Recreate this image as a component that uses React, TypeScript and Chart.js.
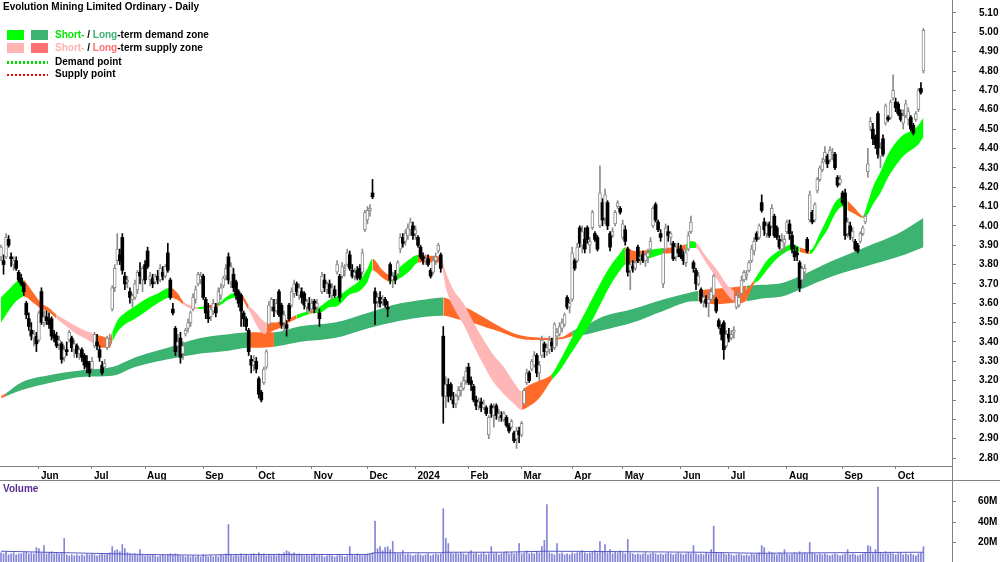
import React, { useEffect, useRef } from "react";
import { Chart, registerables } from "chart.js";

Chart.register(...registerables);

// ---------- Trading-day axis (index 0 = 11 May 2023) ----------
const monthStartIdx = [15, 36, 57, 80, 101, 123, 145, 164, 185, 206, 226, 246, 269, 288, 311, 333, 354];
const monthLabels = ["Jun", "Jul", "Aug", "Sep", "Oct", "Nov", "Dec", "2024", "Feb", "Mar", "Apr", "May", "Jun", "Jul", "Aug", "Sep", "Oct"];
const priceTicks = [2.8, 2.9, 3.0, 3.1, 3.2, 3.3, 3.4, 3.5, 3.6, 3.7, 3.8, 3.9, 4.0, 4.1, 4.2, 4.3, 4.4, 4.5, 4.6, 4.7, 4.8, 4.9, 5.0, 5.1];
const volumeTicks = [20, 40, 60];

// ---------- Daily OHLC ----------
const opens = [
  3.84,3.82,3.84,3.93,3.84,3.80,3.82,3.76,3.73,3.70,
  3.60,3.52,3.46,3.42,3.43,3.41,3.66,3.50,3.53,3.52,
  3.52,3.44,3.43,3.39,3.39,3.32,3.36,3.41,3.42,3.36,
  3.38,3.34,3.36,3.33,3.30,3.29,3.26,3.38,3.40,3.36,
  3.28,3.27,3.37,3.40,3.57,3.68,3.82,3.85,3.94,3.74,
  3.71,3.66,3.62,3.63,3.67,3.76,3.72,3.80,3.87,3.72,
  3.73,3.71,3.74,3.72,3.76,3.74,3.86,3.72,3.57,3.47,
  3.38,3.42,3.34,3.44,3.47,3.50,3.57,3.62,3.70,3.72,
  3.74,3.62,3.56,3.53,3.56,3.58,3.60,3.64,3.69,3.74,
  3.84,3.71,3.75,3.71,3.66,3.64,3.55,3.52,3.46,3.31,
  3.28,3.30,3.21,3.14,3.19,3.27,3.49,3.58,3.58,3.56,
  3.66,3.59,3.50,3.49,3.59,3.59,3.65,3.70,3.64,3.66,
  3.65,3.58,3.60,3.57,3.61,3.58,3.55,3.66,3.72,3.67,
  3.70,3.64,3.67,3.76,3.74,3.74,3.77,3.80,3.85,3.77,
  3.74,3.77,3.78,3.76,3.98,4.03,4.08,4.17,3.66,3.61,
  3.63,3.61,3.62,3.58,3.80,3.72,3.74,3.75,3.88,3.94,
  3.92,3.95,3.98,4.00,3.96,3.94,3.89,3.84,3.82,3.83,
  3.77,3.76,3.82,3.87,3.85,3.43,3.12,3.18,3.18,3.10,
  3.08,3.12,3.15,3.16,3.20,3.27,3.20,3.17,3.10,3.07,
  3.09,3.06,3.06,2.92,3.07,3.02,3.07,3.01,3.02,3.00,
  3.01,2.97,2.96,2.93,2.90,2.94,2.92,3.08,3.19,3.24,
  3.26,3.28,3.33,3.24,3.33,3.39,3.35,3.36,3.40,3.37,
  3.43,3.44,3.47,3.49,3.63,3.58,3.62,3.82,3.82,3.99,
  3.90,3.93,3.99,3.90,3.99,3.96,3.94,4.00,4.12,4.04,
  4.12,3.96,3.95,4.01,4.10,4.09,3.94,3.98,3.88,3.77,
  3.79,3.78,3.89,3.83,3.85,3.82,3.84,3.88,4.00,4.11,
  4.02,3.96,3.70,3.88,3.97,3.94,3.91,3.84,3.88,3.88,
  3.85,3.81,3.88,3.97,3.81,3.77,3.70,3.67,3.61,3.62,
  3.60,3.62,3.64,3.62,3.51,3.47,3.50,3.38,3.44,3.42,
  3.45,3.58,3.59,3.65,3.72,3.74,3.77,3.82,3.87,3.96,
  3.94,4.12,4.02,3.96,4.01,4.00,4.05,3.99,3.93,3.88,
  3.91,3.97,4.01,3.95,3.87,3.86,3.81,3.72,3.76,3.93,
  4.03,4.07,4.03,4.18,4.24,4.29,4.34,4.36,4.34,4.37,
  4.37,4.25,4.22,4.17,4.17,3.96,4.00,3.94,3.92,3.90,
  3.92,3.96,4.02,4.28,4.51,4.50,4.46,4.58,4.36,4.45,
  4.53,4.56,4.56,4.66,4.64,4.63,4.58,4.53,4.57,4.55,
  4.56,4.52,4.55,4.60,4.71,4.80
];
const highs = [
  3.90,3.85,3.96,3.95,3.86,3.84,3.84,3.77,3.75,3.71,
  3.61,3.55,3.50,3.46,3.45,3.56,3.68,3.56,3.56,3.55,
  3.53,3.46,3.45,3.43,3.40,3.38,3.40,3.46,3.43,3.41,
  3.39,3.37,3.37,3.34,3.33,3.30,3.32,3.45,3.44,3.38,
  3.30,3.31,3.43,3.44,3.69,3.80,3.96,3.88,3.96,3.76,
  3.74,3.68,3.65,3.72,3.77,3.81,3.79,3.82,3.89,3.76,
  3.75,3.75,3.77,3.80,3.79,3.80,3.91,3.73,3.60,3.48,
  3.44,3.45,3.40,3.47,3.52,3.56,3.65,3.69,3.76,3.76,
  3.75,3.63,3.60,3.58,3.62,3.60,3.68,3.70,3.74,3.80,
  3.86,3.81,3.78,3.72,3.67,3.65,3.56,3.53,3.47,3.33,
  3.33,3.32,3.22,3.15,3.27,3.36,3.61,3.63,3.62,3.62,
  3.67,3.60,3.56,3.51,3.60,3.68,3.72,3.71,3.70,3.68,
  3.66,3.62,3.63,3.62,3.62,3.62,3.57,3.76,3.75,3.71,
  3.72,3.70,3.69,3.82,3.75,3.81,3.80,3.88,3.87,3.80,
  3.78,3.79,3.80,3.88,4.08,4.10,4.11,4.24,3.68,3.65,
  3.66,3.64,3.63,3.61,3.81,3.76,3.77,3.82,3.96,3.96,
  3.98,4.01,4.04,4.02,4.00,3.95,3.90,3.86,3.85,3.85,
  3.78,3.84,3.86,3.91,3.86,3.48,3.22,3.21,3.19,3.14,
  3.13,3.17,3.19,3.22,3.27,3.29,3.22,3.18,3.12,3.11,
  3.11,3.10,3.07,3.02,3.08,3.08,3.08,3.05,3.04,3.04,
  3.02,2.98,3.00,2.94,2.96,2.96,2.99,3.16,3.26,3.25,
  3.31,3.35,3.34,3.30,3.43,3.40,3.39,3.43,3.42,3.50,
  3.47,3.50,3.52,3.55,3.64,3.62,3.89,3.83,3.91,4.00,
  4.00,3.99,4.00,3.94,4.08,3.97,3.95,4.31,4.14,4.19,
  4.13,3.97,3.99,4.08,4.13,4.10,4.03,4.00,3.89,3.82,
  3.82,3.82,3.90,3.86,3.87,3.86,3.88,3.94,4.10,4.12,
  4.03,3.98,3.88,4.01,4.00,3.97,3.92,3.91,3.91,3.90,
  3.87,3.88,3.97,4.05,3.82,3.78,3.76,3.68,3.65,3.64,
  3.66,3.68,3.75,3.63,3.52,3.49,3.51,3.46,3.47,3.46,
  3.48,3.66,3.64,3.74,3.77,3.77,3.82,3.90,3.94,3.97,
  4.01,4.16,4.04,4.02,4.02,4.11,4.06,4.00,3.95,3.96,
  3.95,4.03,4.03,3.97,3.90,3.89,3.82,3.79,3.80,3.94,
  4.18,4.08,4.12,4.25,4.31,4.35,4.41,4.37,4.41,4.40,
  4.38,4.26,4.26,4.18,4.19,4.04,4.02,3.99,3.93,3.91,
  3.97,4.00,4.06,4.40,4.56,4.53,4.47,4.59,4.43,4.47,
  4.63,4.57,4.65,4.78,4.66,4.64,4.60,4.60,4.65,4.61,
  4.57,4.53,4.59,4.71,4.74,5.02
];
const lows = [
  3.82,3.75,3.83,3.89,3.79,3.77,3.77,3.71,3.69,3.64,
  3.52,3.46,3.41,3.38,3.35,3.40,3.49,3.48,3.49,3.47,
  3.41,3.40,3.37,3.36,3.29,3.30,3.33,3.40,3.35,3.32,
  3.32,3.31,3.30,3.26,3.24,3.22,3.25,3.37,3.36,3.30,
  3.23,3.26,3.36,3.38,3.56,3.66,3.80,3.80,3.75,3.67,
  3.68,3.60,3.58,3.62,3.65,3.70,3.66,3.70,3.78,3.69,
  3.68,3.70,3.70,3.71,3.72,3.73,3.76,3.62,3.54,3.33,
  3.33,3.29,3.31,3.43,3.45,3.48,3.56,3.60,3.69,3.70,
  3.62,3.52,3.50,3.51,3.54,3.53,3.59,3.62,3.68,3.72,
  3.70,3.68,3.66,3.62,3.58,3.48,3.48,3.46,3.33,3.24,
  3.25,3.24,3.11,3.09,3.18,3.26,3.48,3.56,3.53,3.55,
  3.53,3.47,3.45,3.43,3.51,3.58,3.63,3.64,3.62,3.60,
  3.57,3.55,3.56,3.55,3.55,3.56,3.48,3.65,3.66,3.65,
  3.63,3.62,3.63,3.75,3.61,3.73,3.74,3.79,3.77,3.73,
  3.72,3.72,3.72,3.75,3.97,4.01,4.05,4.14,3.49,3.58,
  3.58,3.59,3.58,3.53,3.70,3.68,3.70,3.74,3.86,3.89,
  3.90,3.93,3.95,3.93,3.93,3.89,3.83,3.80,3.80,3.79,
  3.73,3.75,3.80,3.86,3.76,2.98,3.06,3.09,3.10,3.06,
  3.06,3.10,3.12,3.15,3.18,3.18,3.15,3.09,3.05,3.05,
  3.04,3.05,3.02,2.90,3.01,2.96,3.00,2.99,2.99,2.99,
  2.96,2.93,2.95,2.88,2.85,2.88,2.91,3.07,3.18,3.19,
  3.25,3.27,3.22,3.20,3.32,3.32,3.33,3.34,3.35,3.36,
  3.38,3.43,3.45,3.48,3.57,3.55,3.61,3.77,3.81,3.89,
  3.86,3.86,3.91,3.86,3.98,3.92,3.87,3.99,4.00,4.01,
  3.98,3.87,3.94,4.00,4.09,4.06,3.93,3.90,3.74,3.67,
  3.76,3.77,3.81,3.80,3.81,3.79,3.81,3.86,3.99,4.02,
  3.97,3.92,3.68,3.87,3.92,3.90,3.82,3.82,3.84,3.83,
  3.80,3.79,3.87,3.96,3.76,3.67,3.69,3.60,3.58,3.58,
  3.53,3.61,3.63,3.55,3.47,3.41,3.31,3.37,3.40,3.41,
  3.42,3.57,3.58,3.64,3.71,3.72,3.76,3.81,3.85,3.92,
  3.93,4.07,3.95,3.94,3.94,3.99,3.94,3.93,3.88,3.86,
  3.87,3.96,3.93,3.86,3.82,3.82,3.66,3.70,3.73,3.86,
  4.02,4.01,4.02,4.17,4.23,4.28,4.33,4.30,4.33,4.34,
  4.29,4.20,4.21,4.11,3.93,3.94,3.93,3.92,3.87,3.86,
  3.91,3.95,4.01,4.25,4.49,4.42,4.40,4.35,4.30,4.36,
  4.52,4.54,4.55,4.65,4.59,4.57,4.54,4.50,4.56,4.52,
  4.49,4.47,4.54,4.59,4.68,4.79
];
const closes = [
  3.89,3.80,3.94,3.90,3.83,3.82,3.78,3.72,3.70,3.66,
  3.54,3.48,3.43,3.44,3.39,3.55,3.50,3.53,3.51,3.49,
  3.43,3.42,3.38,3.41,3.31,3.36,3.35,3.45,3.37,3.39,
  3.34,3.36,3.32,3.28,3.27,3.24,3.30,3.44,3.38,3.32,
  3.24,3.29,3.42,3.41,3.68,3.78,3.88,3.82,3.77,3.70,
  3.72,3.63,3.64,3.70,3.76,3.74,3.78,3.72,3.79,3.74,
  3.70,3.74,3.72,3.78,3.74,3.79,3.77,3.63,3.55,3.35,
  3.40,3.32,3.38,3.46,3.50,3.55,3.63,3.67,3.75,3.74,
  3.63,3.55,3.52,3.57,3.60,3.55,3.66,3.68,3.73,3.78,
  3.72,3.79,3.68,3.64,3.60,3.56,3.52,3.48,3.35,3.28,
  3.30,3.26,3.13,3.10,3.26,3.35,3.59,3.62,3.56,3.60,
  3.54,3.49,3.54,3.47,3.52,3.66,3.70,3.66,3.68,3.63,
  3.59,3.61,3.57,3.60,3.57,3.60,3.52,3.74,3.68,3.70,
  3.65,3.68,3.64,3.80,3.63,3.79,3.78,3.86,3.78,3.74,
  3.76,3.73,3.73,3.86,4.07,4.08,4.09,4.15,3.60,3.63,
  3.60,3.62,3.59,3.57,3.72,3.74,3.72,3.81,3.94,3.91,
  3.96,3.99,4.02,3.95,3.98,3.90,3.84,3.82,3.83,3.80,
  3.74,3.82,3.84,3.90,3.78,3.12,3.18,3.12,3.12,3.08,
  3.12,3.15,3.17,3.20,3.25,3.19,3.18,3.10,3.07,3.09,
  3.06,3.08,3.03,3.01,3.03,3.06,3.02,3.03,3.01,3.03,
  2.97,2.94,2.99,2.89,2.94,2.92,2.98,3.15,3.24,3.20,
  3.30,3.33,3.24,3.28,3.41,3.35,3.37,3.41,3.38,3.49,
  3.45,3.48,3.50,3.54,3.58,3.60,3.86,3.78,3.89,3.91,
  3.97,3.88,3.93,3.92,4.07,3.93,3.88,4.17,4.03,4.16,
  4.00,3.89,3.97,4.07,4.12,4.07,4.01,3.92,3.76,3.80,
  3.78,3.81,3.82,3.84,3.82,3.85,3.86,3.92,4.09,4.03,
  3.98,3.94,3.86,3.99,3.95,3.96,3.83,3.89,3.86,3.84,
  3.82,3.86,3.95,4.02,3.78,3.70,3.74,3.61,3.63,3.60,
  3.62,3.66,3.74,3.56,3.48,3.44,3.36,3.44,3.42,3.44,
  3.46,3.64,3.63,3.72,3.76,3.75,3.81,3.88,3.92,3.93,
  4.00,4.08,3.98,4.00,3.95,4.09,3.95,3.94,3.89,3.92,
  3.93,4.02,3.96,3.88,3.84,3.85,3.68,3.78,3.78,3.87,
  4.16,4.02,4.11,4.24,4.30,4.33,4.38,4.32,4.39,4.38,
  4.30,4.21,4.24,4.12,3.95,4.02,3.95,3.97,3.88,3.87,
  3.96,3.99,4.05,4.32,4.54,4.45,4.42,4.37,4.40,4.37,
  4.62,4.55,4.64,4.70,4.61,4.58,4.55,4.57,4.63,4.59,
  4.50,4.48,4.58,4.70,4.69,5.01
];

// ---------- Daily volume (millions) ----------
const volumes = [
  10,9,11,8,9,10,8,9,9,10,
  11,9,10,9,15,14,10,17,9,10,
  11,9,10,9,10,24,8,7,8,7,
  8,7,8,7,9,8,9,8,7,8,
  9,8,9,10,16,12,13,11,18,14,
  10,9,8,9,8,13,8,7,8,7,
  8,7,6,7,8,7,8,9,8,9,
  8,7,7,6,7,6,7,6,7,6,
  8,7,6,7,6,7,6,8,7,9,
  37.5,8,7,8,7,9,7,8,7,8,
  9,7,10,8,9,7,8,7,8,7,
  9,8,10,12,11,9,10,8,9,8,
  7,8,7,8,9,7,8,7,6,7,
  8,7,6,7,8,7,6,7,16,8,
  7,9,8,7,8,9,9,10,41,14,
  16,12,15,16,13,21,10,9,9,12,
  8,9,8,7,8,9,8,7,8,9,
  7,8,9,8,9,53,24,19,10,9,
  10,9,10,9,8,10,12,9,10,8,
  9,10,8,9,16,9,10,8,9,10,
  11,9,10,9,10,19,9,10,12,9,
  10,9,11,10,16,22,57,10,9,8,
  19,9,10,8,9,8,10,9,10,11,
  12,10,9,10,11,12,10,21,11,18,
  10,13,9,11,10,12,10,9,23,10,
  9,8,9,8,9,10,8,9,10,9,
  8,9,8,9,10,9,8,9,10,9,
  8,9,10,9,17,9,8,9,8,10,
  9,13,36,10,9,10,9,8,9,8,
  7,8,9,8,7,8,7,9,8,9,
  10,17,15,9,11,10,9,8,10,9,
  13,9,8,9,10,9,11,9,10,9,
  20,10,9,8,9,8,9,8,7,8,
  9,8,7,8,9,13,8,9,8,7,
  8,9,10,17,16,9,13,74,10,9,
  11,9,10,9,8,9,10,8,9,8,
  9,8,7,9,10,16
];
const volAvgIdx = [0, 26, 58, 79, 92, 145, 148, 174, 176, 198, 216, 250, 277, 300, 316, 347, 365];
const volAvg = [11.5, 10, 8.3, 7.6, 8.3, 8.3, 10, 10, 10.5, 10.5, 11.5, 11, 10.5, 9.5, 9.8, 10.3, 10.5];

// ---------- Short-term zone (upper / lower edge, zone state per segment) ----------
const stIdx = [
  0,3,6,8,9,13,16,19,22,26, 30,33,37,40,43,44,46,49,53,57,
  62,67,70,72,76,78,82,86,90,93, 95,98,101,103,105,108,110,114,117,122,
  124,126,130,133,138,142,145,147,151,154, 158,162,165,170,174,176,179,183,187,191,
  195,199,203,206,208,213,218,221,225,229, 233,237,241,245,247,251,256,262,266,271,
  273,275,278,281,284,287,290,292,295,298, 300,303,307,310,313,316,320,321,324,327,
  330,333,335,338,340,341,343,345,348,351, 354,357,360,363,365
];
const stUpper = [
  3.63,3.67,3.71,3.725,3.72,3.65,3.60,3.575,3.54,3.51,
  3.48,3.46,3.44,3.43,3.42,3.45,3.51,3.55,3.585,3.62,
  3.65,3.68,3.65,3.61,3.585,3.58,3.59,3.60,3.64,3.655,
  3.65,3.59,3.55,3.52,3.50,3.50,3.505,3.52,3.54,3.56,
  3.565,3.58,3.62,3.635,3.68,3.72,3.78,3.83,3.77,3.745,
  3.79,3.83,3.85,3.845,3.84,3.76,3.67,3.60,3.50,3.41,
  3.33,3.27,3.19,3.145,3.17,3.20,3.235,3.30,3.40,3.50,
  3.60,3.70,3.79,3.86,3.89,3.87,3.875,3.885,3.89,3.905,
  3.92,3.915,3.86,3.81,3.76,3.70,3.665,3.65,3.67,3.72,
  3.76,3.82,3.865,3.89,3.905,3.89,3.875,3.88,3.96,4.04,
  4.12,4.15,4.13,4.09,4.06,4.05,4.12,4.20,4.28,4.37,
  4.43,4.47,4.49,4.52,4.56
];
const stLower = [
  3.50,3.56,3.61,3.63,3.635,3.60,3.57,3.555,3.52,3.48,
  3.44,3.42,3.39,3.37,3.37,3.40,3.45,3.49,3.52,3.555,
  3.60,3.63,3.615,3.595,3.57,3.57,3.575,3.585,3.62,3.63,
  3.625,3.565,3.49,3.45,3.44,3.46,3.47,3.50,3.52,3.545,
  3.55,3.55,3.58,3.585,3.645,3.665,3.71,3.77,3.73,3.71,
  3.73,3.77,3.81,3.81,3.81,3.68,3.58,3.49,3.38,3.28,
  3.19,3.13,3.08,3.05,3.06,3.11,3.205,3.25,3.33,3.41,
  3.49,3.59,3.69,3.77,3.80,3.81,3.83,3.855,3.86,3.875,
  3.885,3.885,3.83,3.77,3.71,3.65,3.61,3.60,3.62,3.70,
  3.72,3.77,3.83,3.86,3.875,3.865,3.855,3.86,3.92,3.98,
  4.06,4.10,4.08,4.06,4.045,4.04,4.06,4.11,4.17,4.25,
  4.31,4.36,4.39,4.42,4.46
];
// D = demand, S = supply, T = transition
const stZones = "DDDD TTTT SSSS TTT DDDDDD TT SS D T DDD T SSS TTTT D T DDDDDDD TT DDD TT SSSSSSSSS TTT DDDDDDDD TT D TT DD SSSSS TTT DDDDDD T DDDDDD TTT DDDDDDDDDD".replace(/ /g, "").split("");

// ---------- Long-term zone ----------
const ltIdx = [0,2,8,20,33,44,53,66,79,90, 98,102,108,118,132,145,158,168,175,180, 186,192,198,204,210,217,222,226,232,238, 250,262,274,276,282,288,295,301,309,316, 329,342,355,365];
const ltUpper = [3.12,3.135,3.19,3.23,3.255,3.27,3.32,3.37,3.42,3.44, 3.45,3.45,3.45,3.48,3.50,3.55,3.60,3.62,3.63,3.60, 3.565,3.52,3.475,3.44,3.425,3.42,3.425,3.455,3.49,3.53, 3.57,3.62,3.66,3.665,3.675,3.68,3.69,3.695,3.705,3.74, 3.82,3.89,3.96,4.04];
const ltLower = [3.11,3.12,3.15,3.19,3.22,3.225,3.27,3.31,3.34,3.355, 3.37,3.37,3.375,3.40,3.42,3.47,3.51,3.53,3.535,3.52, 3.50,3.475,3.45,3.42,3.41,3.41,3.415,3.43,3.44,3.46, 3.50,3.56,3.61,3.61,3.595,3.60,3.61,3.625,3.635,3.67, 3.74,3.79,3.84,3.89];
const ltZones = "T DDDDDDDDD TT DDDDDD TTTTTTTTT DDDDDD TTT DDDDDDDD".replace(/ /g, "").split("");

// ---------- Styling ----------
const FONT = '"Liberation Sans", Arial, Helvetica, sans-serif';
const ST_COLORS: Record<string, string> = { D: "#00ff00", S: "#ffb6b6", T: "#ff6a28" };
const LT_COLORS: Record<string, string> = { D: "#3cb371", S: "#ff7070", T: "#ff6a28" };
const AXIS_GREY = "#808080";
const UP_GREY = "#8c8c8c";

const X_MIN = -0.4;
const X_MAX = 376.3;

function zeroPad(s: any) {
  s.paddingTop = 0;
  s.paddingBottom = 0;
  s.paddingLeft = 0;
  s.paddingRight = 0;
}

export default function App() {
  const priceRef = useRef<HTMLCanvasElement>(null);
  const volRef = useRef<HTMLCanvasElement>(null);

  useEffect(() => {
    document.body.style.margin = "0";
    Chart.defaults.font.family = FONT;
    Chart.defaults.font.size = 10;
    Chart.defaults.font.weight = "bold";
    Chart.defaults.color = "#000";

    const idx = closes.map((_, i) => i);
    const up = idx.map((i) => closes[i] >= opens[i]);

    const wickData = idx.map((i) => ({ x: i, y: [lows[i], highs[i]] }));
    const bodyData = idx.map((i) => ({ x: i, y: [Math.min(opens[i], closes[i]), Math.max(opens[i], closes[i])] }));

    const ltLowerPts = ltIdx.map((x, k) => ({ x, y: ltLower[k] }));
    const ltUpperPts = ltIdx.map((x, k) => ({ x, y: ltUpper[k] }));
    const stLowerPts = stIdx.map((x, k) => ({ x, y: stLower[k] }));
    const stUpperPts = stIdx.map((x, k) => ({ x, y: stUpper[k] }));

    const bandLine = {
      type: "line" as const,
      pointRadius: 0,
      borderWidth: 0,
      borderColor: "rgba(0,0,0,0)",
      cubicInterpolationMode: "monotone" as const,
    };

    const priceChart = new Chart(priceRef.current!, {
      type: "bar",
      data: {
        datasets: [
          { ...bandLine, data: ltLowerPts, fill: false, order: 5 } as any,
          {
            ...bandLine,
            data: ltUpperPts,
            fill: "-1",
            backgroundColor: LT_COLORS.D,
            order: 5,
            segment: { backgroundColor: (c: any) => LT_COLORS[ltZones[c.p0DataIndex]] || LT_COLORS.D },
          } as any,
          { ...bandLine, data: stLowerPts, fill: false, order: 4 } as any,
          {
            ...bandLine,
            data: stUpperPts,
            fill: "-1",
            backgroundColor: ST_COLORS.D,
            order: 4,
            segment: { backgroundColor: (c: any) => ST_COLORS[stZones[c.p0DataIndex]] || ST_COLORS.D },
          } as any,
          {
            type: "bar",
            data: wickData,
            barThickness: 1,
            grouped: false,
            backgroundColor: up.map((u) => (u ? UP_GREY : "#000")),
            borderWidth: 0,
            order: 2,
          } as any,
          {
            type: "bar",
            data: bodyData,
            barThickness: 3,
            grouped: false,
            backgroundColor: up.map((u) => (u ? "#ffffff" : "#000000")),
            borderColor: up.map((u) => (u ? UP_GREY : "#000000")),
            borderWidth: up.map((u) => (u ? 1 : 0)),
            borderSkipped: false,
            order: 1,
          } as any,
        ],
      },
      options: {
        animation: false,
        responsive: true,
        maintainAspectRatio: false,
        events: [],
        layout: { padding: 0 },
        plugins: { legend: { display: false }, tooltip: { enabled: false }, title: { display: false } },
        scales: {
          x: {
            type: "linear",
            min: X_MIN,
            max: X_MAX,
            offset: false,
            grid: { display: true, offset: false, drawOnChartArea: false, drawTicks: true, tickLength: 3, color: AXIS_GREY },
            border: { display: true, color: AXIS_GREY },
            ticks: {
              autoSkip: false,
              maxRotation: 0,
              minRotation: 0,
              align: "start",
              labelOffset: 2,
              padding: 1,
              color: "#000",
              font: { family: FONT, size: 10, weight: "bold" },
              callback: (_v: any, i: number) => monthLabels[i],
            },
            afterBuildTicks: (s: any) => {
              s.ticks = monthStartIdx.map((v) => ({ value: v }));
            },
            afterFit: (s: any) => {
              s.height = 14;
              zeroPad(s);
            },
          },
          y: {
            type: "linear",
            position: "right",
            min: 2.759,
            max: 5.167,
            grid: { display: true, drawOnChartArea: false, drawTicks: true, tickLength: 4, color: AXIS_GREY },
            border: { display: false },
            ticks: {
              padding: 23,
              color: "#000",
              font: { family: FONT, size: 10, weight: "bold" },
              callback: (v: any) => Number(v).toFixed(2),
            },
            afterBuildTicks: (s: any) => {
              s.ticks = priceTicks.map((v) => ({ value: v }));
            },
            afterFit: (s: any) => {
              s.width = 48;
              zeroPad(s);
            },
          },
        },
      } as any,
    });

    const volChart = new Chart(volRef.current!, {
      type: "bar",
      data: {
        datasets: [
          {
            type: "line",
            data: volAvgIdx.map((x, k) => ({ x, y: volAvg[k] })),
            borderColor: "#5858c6",
            borderWidth: 1,
            pointRadius: 0,
            fill: false,
            order: 1,
          } as any,
          {
            type: "bar",
            data: idx.map((i) => ({ x: i, y: volumes[i] })),
            barThickness: 1,
            grouped: false,
            backgroundColor: "#8484d8",
            borderWidth: 0,
            order: 2,
          } as any,
        ],
      },
      options: {
        animation: false,
        responsive: true,
        maintainAspectRatio: false,
        events: [],
        layout: { padding: 0 },
        plugins: { legend: { display: false }, tooltip: { enabled: false } },
        scales: {
          x: {
            type: "linear",
            min: X_MIN,
            max: X_MAX,
            offset: false,
            display: false,
            grid: { offset: false },
          },
          y: {
            type: "linear",
            position: "right",
            min: 0,
            max: 80,
            grid: { display: true, drawOnChartArea: false, drawTicks: true, tickLength: 4, color: AXIS_GREY },
            border: { display: false },
            ticks: {
              padding: 22,
              color: "#000",
              font: { family: FONT, size: 10, weight: "bold" },
              callback: (v: any) => `${v}M`,
            },
            afterBuildTicks: (s: any) => {
              s.ticks = volumeTicks.map((v) => ({ value: v }));
            },
            afterFit: (s: any) => {
              s.width = 48;
              zeroPad(s);
            },
          },
        },
      } as any,
    });

    return () => {
      priceChart.destroy();
      volChart.destroy();
    };
  }, []);

  const txt: React.CSSProperties = {
    position: "absolute",
    fontFamily: FONT,
    fontSize: 10,
    fontWeight: "bold",
    lineHeight: "12px",
    whiteSpace: "nowrap",
    color: "#000",
  };
  const sw = (left: number, top: number, color: string): React.CSSProperties => ({
    position: "absolute",
    left,
    top,
    width: 17,
    height: 10,
    background: color,
  });
  const dots = (top: number, color: string): React.CSSProperties => ({
    position: "absolute",
    left: 7,
    top,
    width: 41,
    height: 2.5,
    background: `repeating-linear-gradient(90deg, ${color} 0px, ${color} 2.5px, transparent 2.5px, transparent 4px)`,
  });

  return (
    <div style={{ position: "relative", width: 1000, height: 562, overflow: "hidden", background: "#fff" }}>
      <div style={{ position: "absolute", left: 0, top: 0, width: 1000, height: 480 }}>
        <canvas ref={priceRef} />
      </div>
      <div style={{ position: "absolute", left: 0, top: 481, width: 1000, height: 82 }}>
        <canvas ref={volRef} />
      </div>

      {/* panel separators */}
      <div style={{ position: "absolute", left: 0, top: 480, width: 1000, height: 1, background: AXIS_GREY }} />
      <div style={{ position: "absolute", left: 952, top: 0, width: 1, height: 562, background: AXIS_GREY }} />

      {/* title */}
      <div style={{ ...txt, left: 3, top: 1 }}>Evolution Mining Limited Ordinary - Daily</div>

      {/* legend */}
      <div style={sw(7, 30, ST_COLORS.D)} />
      <div style={sw(31, 30, LT_COLORS.D)} />
      <div style={{ ...txt, left: 55, top: 28.5 }}>
        <span style={{ color: "#00e600" }}>Short-</span> / <span style={{ color: "#3cb371" }}>Long</span>-term demand zone
      </div>
      <div style={sw(7, 43, "#ffb3b3")} />
      <div style={sw(31, 43, "#ff7070")} />
      <div style={{ ...txt, left: 55, top: 41.7 }}>
        <span style={{ color: "#ffb3b3" }}>Short-</span> / <span style={{ color: "#ff7070" }}>Long</span>-term supply zone
      </div>
      <div style={dots(61, "#00dd00")} />
      <div style={{ ...txt, left: 55, top: 55.7 }}>Demand point</div>
      <div style={dots(73.5, "#ff0000")} />
      <div style={{ ...txt, left: 55, top: 68.4 }}>Supply point</div>

      {/* volume label */}
      <div style={{ ...txt, left: 3, top: 483.4, color: "#5a2d90" }}>Volume</div>
    </div>
  );
}
